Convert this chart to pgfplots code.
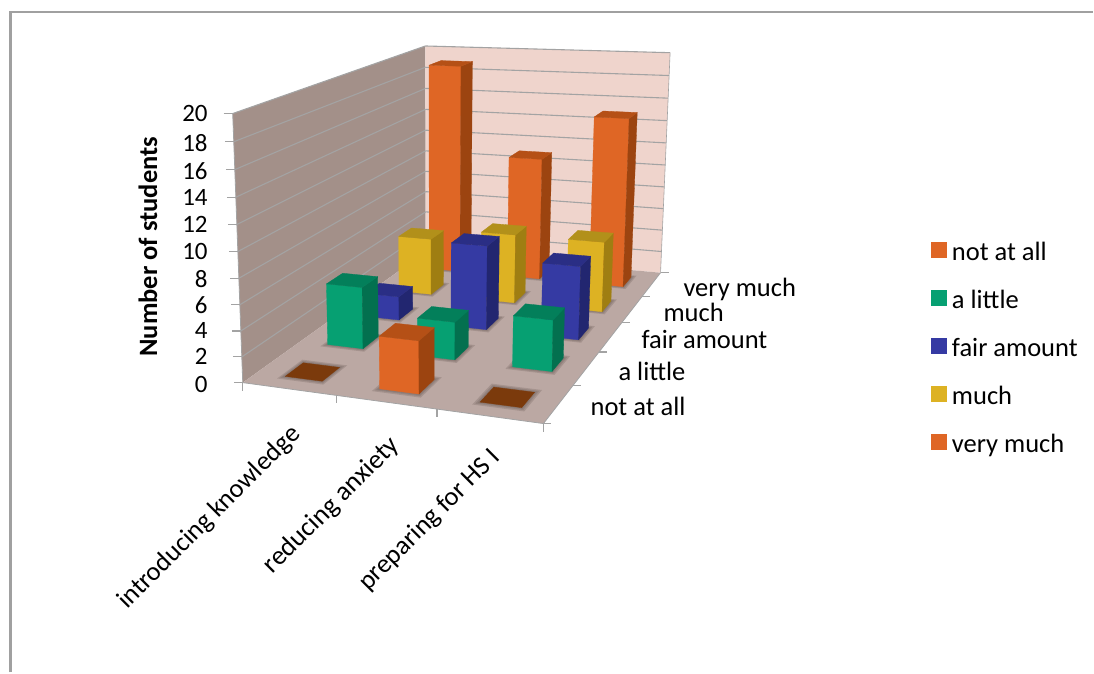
\documentclass[border=0pt]{standalone}
\usepackage{fontspec}
\setmainfont{Carlito}
\usepackage{pgfplots}
\usepackage{pgfplotstable}
\pgfplotsset{compat=1.18}

\definecolor{gridc}{HTML}{A3A3A3}
\definecolor{framec}{HTML}{A0A0A0}
\definecolor{floorc}{HTML}{BBA8A3}
\definecolor{sidewall}{HTML}{A39089}
\definecolor{backwall}{HTML}{EFD4CC}
\definecolor{shadowc}{HTML}{6F5F5A}
\definecolor{orF}{HTML}{DF6625}\definecolor{orS}{HTML}{9C4410}\definecolor{orT}{HTML}{B55016}
\definecolor{grF}{HTML}{06A072}\definecolor{grS}{HTML}{03704F}\definecolor{grT}{HTML}{037F5A}
\definecolor{blF}{HTML}{353AA3}\definecolor{blS}{HTML}{222670}\definecolor{blT}{HTML}{2A2E85}
\definecolor{yeF}{HTML}{DDB223}\definecolor{yeS}{HTML}{9F7E12}\definecolor{yeT}{HTML}{B2901A}
\definecolor{zeroT}{HTML}{7B3A0C}

% Students per answer (rows: not at all ... very much),
% columns: introducing knowledge, reducing anxiety, preparing for HS I
\pgfplotstableread{
c0 c1 c2
0  4  0
5  3  4
2  7  6
5  6  6
19 11 15
}\answers

% Perspective camera: (u,v,z) in the unit box to picture coordinates
\newcommand\project[5]{%
  \pgfmathsetmacro\den{1-0.08739*#1+0.32399*#2-0.05*#3}%
  \pgfmathsetmacro#4{(253.46*#1+321.2*#2-21.7*#3+243)/\den}%
  \pgfmathsetmacro#5{(3.95*#1-49.36*#2-275*#3+383)/\den}%
}
% Filled quadrilateral from four box points
\newcommand\quadface[5]{%
  \edef\qa{#2}\edef\qb{#3}\edef\qc{#4}\edef\qd{#5}%
  \expandafter\projpt\qa\relax\xa\ya
  \expandafter\projpt\qb\relax\xb\yb
  \expandafter\projpt\qc\relax\xc\yc
  \expandafter\projpt\qd\relax\xd\yd
  \edef\doit{\noexpand\addplot[forget plot,#1]
    coordinates {(\xa,\ya) (\xb,\yb) (\xc,\yc) (\xd,\yd) (\xa,\ya)};}%
  \doit
}
\def\projpt#1,#2,#3\relax#4#5{\project{#1}{#2}{#3}{#4}{#5}}
% Line between two box points
\newcommand\boxline[3]{%
  \edef\qa{#2}\edef\qb{#3}%
  \expandafter\projpt\qa\relax\xa\ya
  \expandafter\projpt\qb\relax\xb\yb
  \edef\doit{\noexpand\addplot[forget plot,#1] coordinates {(\xa,\ya) (\xb,\yb)};}%
  \doit
}
% Cell bounds of a bar: category i, answer j
\newcommand\cellbounds[3]{%
  \pgfmathsetmacro\uL{(#1+0.5)/3+0.004-0.0665-#3}%
  \pgfmathsetmacro\uR{(#1+0.5)/3+0.004+0.0665+#3}%
  \pgfmathsetmacro\vF{(#2+0.5)/5-0.041-#3}%
  \pgfmathsetmacro\vB{(#2+0.5)/5+0.041+#3}%
}
\newcommand\barshadow[2]{%
  \foreach \grow in {0.016,0.010,0.005}{%
    \cellbounds{#1}{#2}{\grow}%
    \quadface{draw=none,fill=shadowc,fill opacity=0.28}{\uL,\vF,0}{\uR,\vF,0}{\uR,\vB,0}{\uL,\vB,0}%
  }%
}
% One bar: category, answer, value, colour prefix
\newcommand\drawbar[4]{%
  \cellbounds{#1}{#2}{0}%
  \pgfmathsetmacro\zz{#3/20}%
  \ifnum#3=0
    \quadface{draw=zeroT,line width=0.3pt,fill=zeroT}{\uL,\vF,0}{\uR,\vF,0}{\uR,\vB,0}{\uL,\vB,0}%
  \else
    \quadface{draw=#4F,line width=0.3pt,fill=#4F}{\uL,\vF,0}{\uR,\vF,0}{\uR,\vF,\zz}{\uL,\vF,\zz}%
    \quadface{draw=#4S,line width=0.3pt,fill=#4S}{\uR,\vF,0}{\uR,\vB,0}{\uR,\vB,\zz}{\uR,\vF,\zz}%
    \quadface{draw=#4T,line width=0.3pt,fill=#4T}{\uL,\vF,\zz}{\uR,\vF,\zz}{\uR,\vB,\zz}{\uL,\vB,\zz}%
  \fi
}
% Text label at picture coordinates, usable inside loops
\newcommand\lbl[5][26.5]{%
  \edef\doit{\noexpand\node[#2,inner sep=0pt] at (axis cs:#3,#4)
    {\noexpand\fontsize{#1}{30}\noexpand\selectfont #5};}\doit
}

\begin{document}
\begin{tikzpicture}
\path (0,0) rectangle (1094pt,673pt);
\begin{axis}[
  at={(0,0)}, anchor=south west,
  width=1094pt, height=673pt, scale only axis,
  xmin=0, xmax=1094, ymin=0, ymax=673, y dir=reverse,
  hide axis, clip=false,
  legend style={
    at={(axis cs:931.5,242.5)}, anchor=north west, draw=none, fill=none,
    inner sep=0pt, outer sep=0pt, row sep=24.9pt, column sep=6pt,
    font=\fontsize{26.5}{30}\selectfont,
    nodes={text height=16pt, text depth=5pt, inner sep=0pt, outer sep=0pt},
  },
  legend cell align=left,
  legend image code/.code={\fill[#1] (0pt,-2.5pt) rectangle (15pt,12.5pt);},
]
% chart frame
\addplot[forget plot, color=framec, line width=2.2pt] coordinates {(10.5,673) (10.5,12) (1094,12)};

% walls and floor
\quadface{draw=none,fill=sidewall}{0,0,0}{0,1,0}{0,1,1}{0,0,1}
\quadface{draw=none,fill=backwall}{0,1,0}{1,1,0}{1,1,1}{0,1,1}
\quadface{draw=none,fill=floorc}{0,0,0}{1,0,0}{1,1,0}{0,1,0}

% gridlines on both walls
\foreach \t in {1,...,10}{%
  \pgfmathsetmacro\zt{\t/10}%
  \boxline{color=gridc,line width=1.1pt}{0,0,\zt}{0,1,\zt}%
  \boxline{color=gridc,line width=1.1pt}{0,1,\zt}{1,1,\zt}%
}
\boxline{color=gridc,line width=0.8pt}{0,0,0}{0,0,1}
\boxline{color=gridc,line width=0.6pt}{1,1,0}{1,1,1}
\boxline{color=gridc,line width=0.8pt}{0,0,0}{1,0,0}
\boxline{color=gridc,line width=0.8pt}{1,0,0}{1,1,0}

% tick marks on the three axes
\foreach \t in {0,...,10}{%
  \pgfmathsetmacro\zt{\t/10}%
  \project{0}{0}{\zt}{\tx}{\ty}%
  \pgfmathsetmacro\txx{\tx-9}%
  \edef\doit{\noexpand\addplot[forget plot,color=gridc,line width=1.1pt] coordinates {(\txx,\ty) (\tx,\ty)};}\doit
}
\foreach \t in {0,1,2,3}{%
  \pgfmathsetmacro\ut{\t/3}%
  \project{\ut}{0}{0}{\tx}{\ty}%
  \pgfmathsetmacro\tyy{\ty+8}%
  \edef\doit{\noexpand\addplot[forget plot,color=gridc,line width=1.1pt] coordinates {(\tx,\ty) (\tx,\tyy)};}\doit
}
\foreach \t in {0,...,5}{%
  \pgfmathsetmacro\vt{\t/5}%
  \project{1}{\vt}{0}{\tx}{\ty}%
  \pgfmathsetmacro\txx{\tx+8}%
  \edef\doit{\noexpand\addplot[forget plot,color=gridc,line width=1.1pt] coordinates {(\tx,\ty) (\txx,\ty)};}\doit
}

% floor shadows below the bars
\foreach \j in {4,3,2,1,0}{\foreach \i in {0,1,2}{\barshadow{\i}{\j}}}

% bars, back row first
\foreach \j/\pre in {4/or,3/ye,2/bl,1/gr,0/or}{%
  \foreach \i in {0,1,2}{%
    \pgfplotstablegetelem{\j}{[index]\i}\of\answers
    \edef\val{\pgfplotsretval}%
    \drawbar{\i}{\j}{\val}{\pre}%
  }%
}

% legend
\addlegendimage{orF}\addlegendentry{not at all}
\addlegendimage{grF}\addlegendentry{a little}
\addlegendimage{blF}\addlegendentry{fair amount}
\addlegendimage{yeF}\addlegendentry{much}
\addlegendimage{orF}\addlegendentry{very much}

% axis labels
\foreach \lab/\py in {20/114,18/143,16/171,14/198,12/225,10/252,8/279,6/305,4/331,2/357,0/385}{%
  \lbl[25]{anchor=east}{208}{\py}{\lab}%
}
\lbl{anchor=west}{591}{407}{not at all}
\lbl{anchor=west}{619}{372}{a little}
\lbl{anchor=west}{642}{340}{fair amount}
\lbl{anchor=west}{664}{313}{much}
\lbl{anchor=west}{684}{290}{very much}
\lbl{anchor=east,rotate=45}{297}{431}{introducing knowledge}
\lbl[27]{anchor=east,rotate=45}{396}{442}{reducing anxiety}
\lbl{anchor=east,rotate=45}{497}{454}{preparing for HS I}
\node[rotate=90,inner sep=0pt] at (axis cs:148,247) {\fontsize{26.5}{30}\selectfont\bfseries Number of students};
\end{axis}
\end{tikzpicture}
\end{document}
